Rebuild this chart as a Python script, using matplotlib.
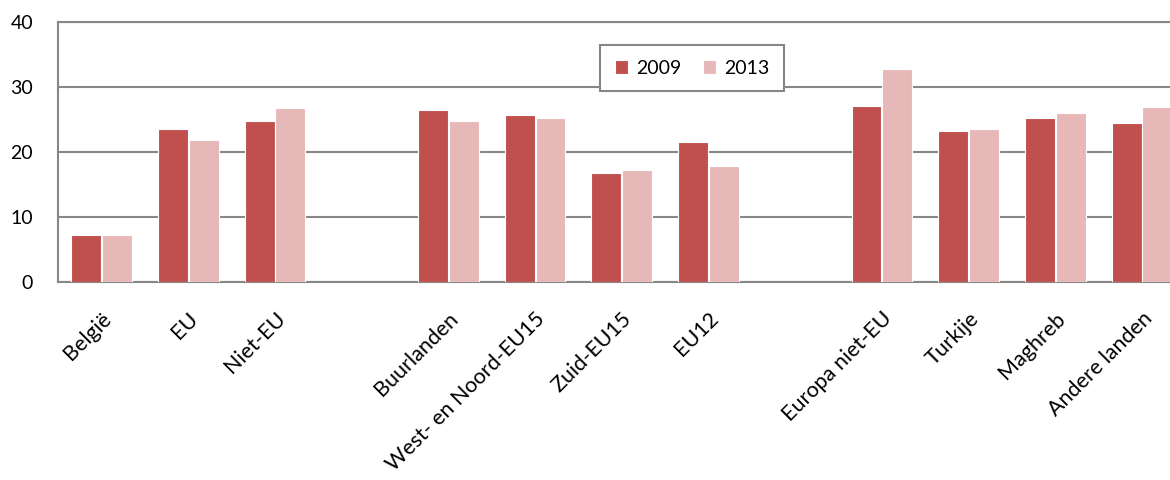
import numpy as np
import matplotlib
matplotlib.use("Agg")
import matplotlib.pyplot as plt

plt.rcParams['font.family'] = ['Lato', 'DejaVu Sans']

# categories in chart order; None marks an empty slot between groups
categories = ['België', 'EU', 'Niet-EU', None,
              'Buurlanden', 'West- en Noord-EU15', 'Zuid-EU15', 'EU12', None,
              'Europa niet-EU', 'Turkije', 'Maghreb', 'Andere landen']
values_2009 = [7.3, 23.5, 24.8, None, 26.5, 25.7, 16.7, 21.5, None, 27.1, 23.3, 25.2, 24.4]
values_2013 = [7.3, 21.8, 26.8, None, 24.8, 25.3, 17.2, 17.8, None, 32.7, 23.5, 26.0, 26.9]
years = ['2009', '2013']
colors = ['#C0504D', '#E6B9B8']
grid_color = '#878787'

fig = plt.figure(figsize=(11.7, 4.8), dpi=100)
# axes runs past the right edge like the original crop
ax = fig.add_axes([58 / 1170, 198 / 480, 14 * 86.7 / 1170, 260 / 480])

idx = [i for i, c in enumerate(categories) if c is not None]
x = np.array(idx, dtype=float)
v09 = [values_2009[i] for i in idx]
v13 = [values_2013[i] for i in idx]

w = 0.345
ax.bar(x - 0.175, v09, width=w, color=colors[0], edgecolor='white', linewidth=0.8,
       label=years[0], zorder=3)
ax.bar(x + 0.18, v13, width=w, color=colors[1], edgecolor='white', linewidth=0.8,
       label=years[1], zorder=3)

ax.set_xlim(-0.5, 13.5)
ax.set_ylim(0, 40)
ax.set_yticks([0, 10, 20, 30, 40])
ax.yaxis.grid(True, color=grid_color, linewidth=1.5, zorder=0)
ax.set_axisbelow(True)

ax.spines['right'].set_visible(False)
for s in ['left', 'bottom', 'top']:
    ax.spines[s].set_color(grid_color)
    ax.spines[s].set_linewidth(1.5)

ax.set_xticks(x)
ax.set_xticklabels([categories[i] for i in idx], rotation=45, ha='right',
                   rotation_mode='anchor', fontsize=15.5)
ax.tick_params(axis='x', length=0, pad=19)
ax.tick_params(axis='y', length=0, pad=18, labelsize=14)

leg = fig.legend(loc='upper left', bbox_to_anchor=(600 / 1170, 1 - 45 / 480),
                 ncol=2, fontsize=14, frameon=True, fancybox=False, framealpha=1,
                 borderaxespad=0, handlelength=0.7, handleheight=0.7,
                 handletextpad=0.4, columnspacing=1.1, borderpad=0.75)
leg.get_frame().set_edgecolor(grid_color)
leg.get_frame().set_linewidth(1.5)

fig.savefig('out.png', dpi=100)
